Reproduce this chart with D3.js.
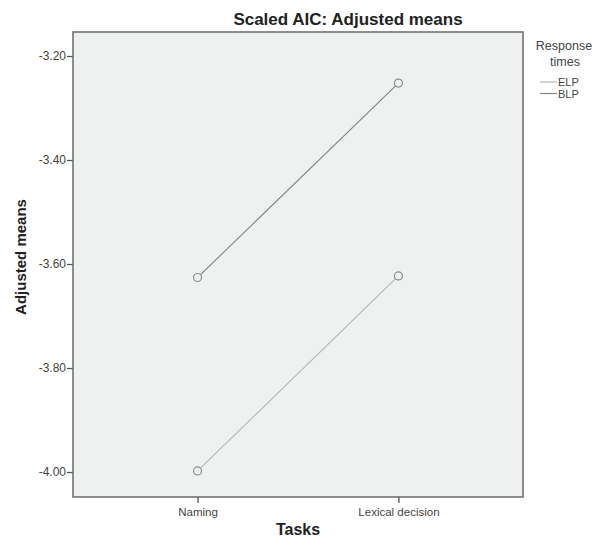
<!DOCTYPE html>
<html>
<head>
<meta charset="utf-8">
<script src="https://d3js.org/d3.v7.min.js"></script>
<style>
  body { margin: 0; background: #fff; }
  text { font-family: Arial, "Liberation Sans", sans-serif; }
</style>
</head>
<body>
<div class="diagram"></div>
<script>
// data
const tasks = ["Naming", "Lexical decision"];
const seriesNames = ["ELP", "BLP"];
const elpMeans = [-3.998, -3.623];
const blpMeans = [-3.626, -3.252];
const yTicks = [-3.20, -3.40, -3.60, -3.80, -4.00];
const seriesColors = ["#b4b4b4", "#858585"];

const series = [
  {name: seriesNames[0], values: elpMeans, color: seriesColors[0]},
  {name: seriesNames[1], values: blpMeans, color: seriesColors[1]}
];

// frame of the plot area
const frame = {left: 73, top: 32, right: 523, bottom: 497};

const svg = d3.select(".diagram")
  .append("svg")
    .attr("width", 595)
    .attr("height", 547);

svg.append("rect")
  .attr("x", frame.left)
  .attr("y", frame.top)
  .attr("width", frame.right - frame.left)
  .attr("height", frame.bottom - frame.top)
  .attr("fill", "#eff0f0");

const x = d3.scalePoint()
  .domain(tasks)
  .range([frame.left, frame.right])
  .padding(0.62);

const y = d3.scaleLinear()
  .domain([-4.00, -3.20])
  .range([472, 56]);

// plain hyphen for negatives, like the original
const fmt = function(d) { return d.toFixed(2); };

// Y axis
const yAxis = svg.append("g")
  .attr("transform", `translate(${frame.left}, 0)`)
  .call(d3.axisLeft(y)
    .tickValues(yTicks)
    .tickFormat(fmt)
    .tickSize(6)
    .tickPadding(1));
yAxis.select(".domain").remove();
yAxis.selectAll(".tick line").attr("stroke", "#555").attr("stroke-width", 1.3);
yAxis.selectAll(".tick text")
  .attr("fill", "#444")
  .style("font-size", "12px");

// X axis
const xAxis = svg.append("g")
  .attr("transform", `translate(0, ${frame.bottom})`)
  .call(d3.axisBottom(x)
    .tickSize(6)
    .tickPadding(5));
xAxis.select(".domain").remove();
xAxis.selectAll(".tick line").attr("stroke", "#555").attr("stroke-width", 1.3);
xAxis.selectAll(".tick text")
  .attr("fill", "#444")
  .style("font-size", "11.5px");

// frame border
svg.append("rect")
  .attr("x", frame.left)
  .attr("y", frame.top)
  .attr("width", frame.right - frame.left)
  .attr("height", frame.bottom - frame.top)
  .attr("fill", "none")
  .attr("stroke", "#6a6a6a")
  .attr("stroke-width", 1.5);

// lines and markers
const line = d3.line()
  .x(function(d, i) { return x(tasks[i]); })
  .y(function(d) { return y(d); });

series.forEach(function(s) {
  svg.append("path")
    .datum(s.values)
    .attr("fill", "none")
    .attr("stroke", s.color)
    .attr("stroke-width", 1.1)
    .attr("d", line);

  svg.selectAll(null)
    .data(s.values)
    .enter()
    .append("circle")
      .attr("cx", function(d, i) { return x(tasks[i]); })
      .attr("cy", function(d) { return y(d); })
      .attr("r", 4)
      .attr("fill", "#eff0f0")
      .attr("stroke", "#8a8a8a")
      .attr("stroke-width", 1.2);
});

// titles
svg.append("text")
  .attr("x", 348)
  .attr("y", 25)
  .attr("text-anchor", "middle")
  .attr("font-weight", "bold")
  .attr("fill", "#222")
  .style("font-size", "17px")
  .text("Scaled AIC: Adjusted means");

svg.append("text")
  .attr("x", 298)
  .attr("y", 535)
  .attr("text-anchor", "middle")
  .attr("font-weight", "bold")
  .attr("fill", "#222")
  .style("font-size", "16px")
  .text("Tasks");

svg.append("text")
  .attr("transform", "translate(26, 257) rotate(-90)")
  .attr("text-anchor", "middle")
  .attr("font-weight", "bold")
  .attr("fill", "#222")
  .style("font-size", "15px")
  .text("Adjusted means");

// legend
svg.append("text")
  .attr("x", 564)
  .attr("y", 50)
  .attr("text-anchor", "middle")
  .attr("fill", "#444")
  .style("font-size", "12.5px")
  .text("Response");

svg.append("text")
  .attr("x", 565)
  .attr("y", 66)
  .attr("text-anchor", "middle")
  .attr("fill", "#444")
  .style("font-size", "12.5px")
  .text("times");

const legend = svg.selectAll(".legend-item")
  .data(series)
  .enter()
  .append("g")
    .attr("class", "legend-item")
    .attr("transform", function(d, i) { return `translate(540, ${82 + i * 11.5})`; });

legend.append("line")
  .attr("x1", 0)
  .attr("x2", 17)
  .attr("stroke", function(d) { return d.color; })
  .attr("stroke-width", 1.2);

legend.append("text")
  .attr("x", 18)
  .attr("y", 4)
  .attr("fill", "#444")
  .style("font-size", "11px")
  .text(function(d) { return d.name; });
</script>
</body>
</html>
